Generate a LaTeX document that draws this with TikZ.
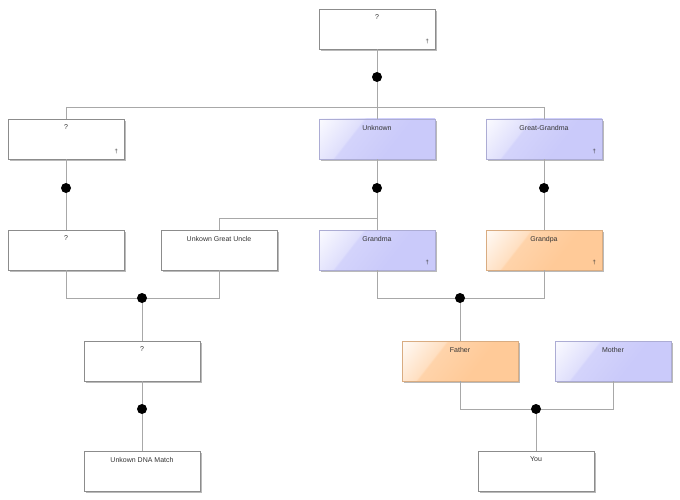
\documentclass[tikz,border=0pt]{standalone}
\usepackage{fontspec}
\setmainfont{Liberation Sans}
\usetikzlibrary{shadows,calc}
\definecolor{lav}{HTML}{CACAFA}
\definecolor{orng}{HTML}{FFCA98}
\definecolor{conn}{HTML}{A8A8A8}
\definecolor{txt}{HTML}{333333}
\pgfdeclarehorizontalshading{glossblue}{100bp}{color(0bp)=(white); color(15bp)=(lav!8!white); color(36bp)=(lav!60!white); color(37bp)=(lav!82!white); color(60bp)=(lav); color(100bp)=(lav)}
\pgfdeclarehorizontalshading{glossorng}{100bp}{color(0bp)=(white); color(15bp)=(orng!8!white); color(36bp)=(orng!60!white); color(37bp)=(orng!82!white); color(60bp)=(orng); color(100bp)=(orng)}
\tikzset{
  pbox/.style={draw=black!45, line width=0.5pt, minimum width=116pt, minimum height=40pt, inner sep=0pt,
    fill=white, drop shadow={shadow xshift=1.6pt, shadow yshift=-1.6pt, opacity=0.45, fill=black!60}},
  bluebox/.style={pbox, shading=glossblue, shading angle=-38, draw=lav!85!black},
  orangebox/.style={pbox, shading=glossorng, shading angle=-38, draw=orng!85!black},
  ttl/.style={anchor=north, font=\fontsize{7}{8}\selectfont, text=txt, inner sep=0pt, yshift=-6pt},
  dag/.style={anchor=south east, font=\fontsize{6}{7}\selectfont, text=txt, inner sep=0pt, xshift=-6pt, yshift=5pt},
  dotn/.style={circle, fill=black, minimum size=10pt, inner sep=0pt},
  con/.style={draw=conn, line width=0.8pt},
}
\begin{document}
\begin{tikzpicture}[x=1pt,y=-1pt]
\useasboundingbox (0,0) rectangle (680,500);
% boxes
\node[pbox, label={[ttl]north:?}, label={[dag]south east:†}] (g0) at (377,29) {};
\node[pbox, label={[ttl]north:?}, label={[dag]south east:†}] (a1) at (66,139) {};
\node[bluebox, label={[ttl]north:Unknown}] (unk) at (377,139) {};
\node[bluebox, label={[ttl]north:Great-Grandma}, label={[dag]south east:†}] (ggm) at (544,139) {};
\node[pbox, label={[ttl]north:?}] (a2) at (66,250) {};
\node[pbox, label={[ttl]north:Unkown Great Uncle}] (guncle) at (219,250) {};
\node[bluebox, label={[ttl]north:Grandma}, label={[dag]south east:†}] (gma) at (377,250) {};
\node[orangebox, label={[ttl]north:Grandpa}, label={[dag]south east:†}] (gpa) at (544,250) {};
\node[pbox, label={[ttl]north:?}] (a3) at (142,361) {};
\node[orangebox, label={[ttl]north:Father}] (father) at (460,361) {};
\node[bluebox, label={[ttl]north:Mother}] (mother) at (613,361) {};
\node[pbox, label={[ttl]north:Unkown DNA Match}] (dna) at (142,471) {};
\node[pbox, label={[ttl]north:You}] (you) at (536,471) {};
% junctions
\coordinate (j0) at (377,107);
\coordinate (j0l) at (66,107);
\coordinate (j0r) at (544,107);
\coordinate (ju) at (377,218);
\coordinate (jul) at (219,218);
\coordinate (j4l) at (66,298);
\coordinate (j4r) at (219,298);
\coordinate (j5l) at (377,298);
\coordinate (j5r) at (544,298);
\coordinate (j7l) at (460,409);
\coordinate (j7r) at (613,409);
\coordinate (c0) at (377,77);
\coordinate (c1) at (66,188);
\coordinate (c2) at (377,188);
\coordinate (c3) at (544,188);
\coordinate (c4) at (142,298);
\coordinate (c5) at (460,298);
\coordinate (c6) at (142,409);
\coordinate (c7) at (536,409);
% connectors
\path[con] (g0.south) -- (j0);
\path[con] (j0l) -- (j0r);
\path[con] (j0l) -- (a1.north);
\path[con] (j0) -- (unk.north);
\path[con] (j0r) -- (ggm.north);
\path[con] (a1.south) -- (a2.north);
\path[con] (unk.south) -- (gma.north);
\path[con] (guncle.north) -- (jul) -- (ju);
\path[con] (ggm.south) -- (gpa.north);
\path[con] (a2.south) -- (j4l) -- (j4r) -- (guncle.south);
\path[con] (gma.south) -- (j5l) -- (j5r) -- (gpa.south);
\path[con] (c4) -- (a3.north);
\path[con] (c5) -- (father.north);
\path[con] (a3.south) -- (dna.north);
\path[con] (father.south) -- (j7l) -- (j7r) -- (mother.south);
\path[con] (c7) -- (you.north);
% dots
\node[dotn] (d0) at (c0) {};
\node[dotn] (d1) at (c1) {};
\node[dotn] (d2) at (c2) {};
\node[dotn] (d3) at (c3) {};
\node[dotn] (d4) at (c4) {};
\node[dotn] (d5) at (c5) {};
\node[dotn] (d6) at (c6) {};
\node[dotn] (d7) at (c7) {};
\end{tikzpicture}
\end{document}
